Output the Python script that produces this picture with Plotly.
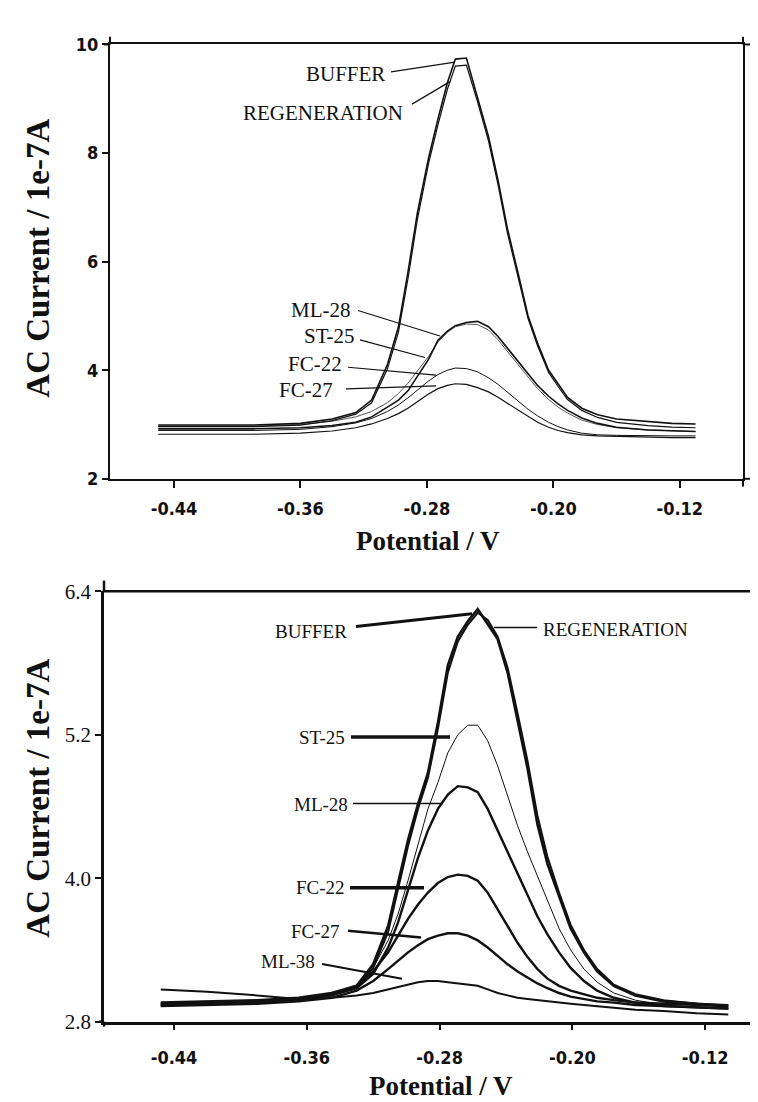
import plotly.graph_objects as go

W, H = 758, 1102

# ---------------- data: top panel ----------------
TOP_X = [-0.450, -0.420, -0.390, -0.360, -0.340, -0.325, -0.315, -0.305, -0.298, -0.292,
         -0.286, -0.279, -0.273, -0.267, -0.262, -0.255, -0.248, -0.241, -0.235, -0.229,
         -0.222, -0.216, -0.210, -0.203, -0.197, -0.191, -0.182, -0.172, -0.160, -0.140,
         -0.125, -0.110]
TOP_BUFFER = [2.99, 2.99, 2.99, 3.02, 3.10, 3.22, 3.45, 4.10, 4.80, 5.80,
              6.90, 7.90, 8.63, 9.30, 9.73, 9.75, 9.00, 8.30, 7.50, 6.60,
              5.75, 5.00, 4.50, 4.00, 3.75, 3.50, 3.30, 3.18, 3.10, 3.05,
              3.02, 3.01]
TOP_REGEN = [2.96, 2.96, 2.96, 2.99, 3.07, 3.19, 3.40, 4.02, 4.70, 5.68,
             6.78, 7.80, 8.52, 9.18, 9.60, 9.62, 8.95, 8.22, 7.42, 6.52,
             5.68, 4.95, 4.45, 3.96, 3.70, 3.46, 3.26, 3.13, 3.04, 2.98,
             2.95, 2.94]
TOP_ML28 = [2.92, 2.92, 2.92, 2.94, 2.98, 3.04, 3.14, 3.32, 3.45, 3.62,
            3.88, 4.20, 4.55, 4.72, 4.82, 4.88, 4.90, 4.80, 4.62, 4.40,
            4.15, 3.92, 3.72, 3.52, 3.38, 3.26, 3.12, 3.02, 2.95, 2.90,
            2.88, 2.87]
TOP_ST25 = [2.97, 2.97, 2.97, 3.00, 3.06, 3.14, 3.24, 3.40, 3.57, 3.76,
            3.98, 4.25, 4.52, 4.70, 4.80, 4.85, 4.84, 4.74, 4.56, 4.34,
            4.08, 3.86, 3.66, 3.46, 3.32, 3.21, 3.08, 3.00, 2.94, 2.90,
            2.88, 2.87]
TOP_FC22 = [2.89, 2.89, 2.89, 2.91, 2.96, 3.03, 3.11, 3.24, 3.36, 3.49,
            3.63, 3.80, 3.92, 4.00, 4.04, 4.03, 3.97, 3.86, 3.74, 3.60,
            3.43, 3.28, 3.16, 3.04, 2.96, 2.90, 2.84, 2.81, 2.80, 2.79,
            2.79, 2.79]
TOP_FC27 = [2.82, 2.82, 2.82, 2.84, 2.88, 2.94, 3.01, 3.11, 3.20, 3.30,
            3.42, 3.56, 3.66, 3.72, 3.75, 3.74, 3.68, 3.60, 3.50, 3.39,
            3.26, 3.14, 3.04, 2.95, 2.89, 2.85, 2.81, 2.79, 2.78, 2.77,
            2.76, 2.76]

# ---------------- data: bottom panel ----------------
BOT_X = [-0.448, -0.420, -0.390, -0.365, -0.345, -0.330, -0.320, -0.311, -0.305, -0.299,
         -0.293, -0.287, -0.281, -0.275, -0.269, -0.263, -0.257, -0.251, -0.245, -0.239,
         -0.233, -0.227, -0.221, -0.215, -0.208, -0.201, -0.193, -0.185, -0.175, -0.162,
         -0.145, -0.125, -0.106]
BOT_BUFFER = [2.96, 2.97, 2.98, 3.00, 3.04, 3.10, 3.28, 3.60, 3.95, 4.32,
              4.62, 4.88, 5.30, 5.78, 6.02, 6.15, 6.25, 6.12, 6.00, 5.72,
              5.32, 4.92, 4.45, 4.12, 3.85, 3.58, 3.38, 3.22, 3.10, 3.02,
              2.97, 2.95, 2.93]
BOT_REGEN = [2.94, 2.95, 2.96, 2.99, 3.03, 3.09, 3.25, 3.55, 3.90, 4.27,
             4.58, 4.84, 5.25, 5.72, 5.98, 6.12, 6.22, 6.16, 6.02, 5.76,
             5.38, 4.98, 4.52, 4.18, 3.88, 3.61, 3.40, 3.24, 3.11, 3.03,
             2.98, 2.95, 2.94]
BOT_ST25 = [2.95, 2.96, 2.97, 2.99, 3.03, 3.10, 3.25, 3.48, 3.70, 3.98,
            4.28, 4.58, 4.80, 5.05, 5.20, 5.28, 5.28, 5.15, 4.94, 4.68,
            4.44, 4.22, 4.02, 3.82, 3.58, 3.40, 3.24, 3.13, 3.04, 2.98,
            2.94, 2.92, 2.91]
BOT_ML28 = [2.94, 2.95, 2.96, 2.98, 3.02, 3.08, 3.20, 3.42, 3.63, 3.90,
            4.17, 4.40, 4.58, 4.70, 4.77, 4.76, 4.72, 4.58, 4.40, 4.22,
            4.03, 3.85, 3.68, 3.53, 3.38, 3.25, 3.14, 3.06, 3.00, 2.96,
            2.93, 2.92, 2.91]
BOT_FC22 = [2.95, 2.95, 2.96, 2.98, 3.02, 3.10, 3.22, 3.38, 3.52, 3.66,
            3.78, 3.88, 3.96, 4.01, 4.03, 4.02, 3.98, 3.88, 3.74, 3.60,
            3.46, 3.34, 3.24, 3.16, 3.10, 3.06, 3.03, 3.00, 2.98, 2.96,
            2.95, 2.94, 2.93]
BOT_FC27 = [2.93, 2.94, 2.95, 2.97, 3.00, 3.06, 3.14, 3.24, 3.31, 3.38,
            3.44, 3.49, 3.52, 3.54, 3.54, 3.52, 3.48, 3.42, 3.35, 3.28,
            3.22, 3.17, 3.12, 3.08, 3.04, 3.01, 2.99, 2.97, 2.96, 2.94,
            2.93, 2.92, 2.91]
BOT_ML38 = [3.07, 3.05, 3.02, 2.99, 3.00, 3.02, 3.04, 3.07, 3.09, 3.11,
            3.13, 3.14, 3.14, 3.13, 3.12, 3.11, 3.10, 3.07, 3.04, 3.02,
            3.00, 2.99, 2.98, 2.97, 2.96, 2.95, 2.94, 2.93, 2.92, 2.90,
            2.89, 2.87, 2.86]

TOP_XTICKS = [-0.44, -0.36, -0.28, -0.20, -0.12]
TOP_XTICK_TEXT = ["-0.44", "-0.36", "-0.28", "-0.20", "-0.12"]
TOP_YTICKS = [2, 4, 6, 8, 10]
BOT_XTICKS = [-0.44, -0.36, -0.28, -0.20, -0.12]
BOT_XTICK_TEXT = ["-0.44", "-0.36", "-0.28", "-0.20", "-0.12"]
BOT_YTICKS = [2.8, 4.0, 5.2, 6.4]
BOT_YTICK_TEXT = ["2.8", "4.0", "5.2", "6.4"]

X_TITLE = "Potential / V"
Y_TITLE = "AC Current / 1e-7A"

# ---------------- layout helpers (pixel -> paper) ----------------
def px(x):
    return x / W

def py(y):
    return 1 - y / H

SERIF = "Liberation Serif, Times New Roman, serif"
NARROW = "Liberation Sans Narrow, Arial Narrow, DejaVu Sans Condensed, sans-serif"
INK = "#111111"

# plot areas in pixels
T_L, T_R, T_T, T_B = 102, 735, 25, 469
B_L, B_R, B_T, B_B = 96, 758, 584, 1024

fig = go.Figure()

def add(x, y, xa, ya, width, color=INK):
    fig.add_trace(go.Scatter(x=x, y=y, mode="lines", xaxis=xa, yaxis=ya,
                             line=dict(color=color, width=width),
                             showlegend=False, hoverinfo="skip"))

# top panel
add(TOP_X, TOP_FC27, "x", "y", 1.2)
add(TOP_X, TOP_FC22, "x", "y", 1.0)
add(TOP_X, TOP_ST25, "x", "y", 1.0, "#555555")
add(TOP_X, TOP_ML28, "x", "y", 1.6)
add(TOP_X, TOP_REGEN, "x", "y", 1.2)
add(TOP_X, TOP_BUFFER, "x", "y", 1.6)

# bottom panel
add(BOT_X, BOT_ML38, "x2", "y2", 2.0)
add(BOT_X, BOT_FC27, "x2", "y2", 2.4)
add(BOT_X, BOT_FC22, "x2", "y2", 2.4)
add(BOT_X, BOT_ML28, "x2", "y2", 2.4)
add(BOT_X, BOT_ST25, "x2", "y2", 1.0)
add(BOT_X, BOT_REGEN, "x2", "y2", 2.0)
add(BOT_X, BOT_BUFFER, "x2", "y2", 2.6)

tickfont_narrow = dict(family=NARROW, size=18, color=INK, weight="bold")

fig.update_layout(
    width=W, height=H, paper_bgcolor="white", plot_bgcolor="white",
    margin=dict(l=0, r=0, t=0, b=0), showlegend=False,
    xaxis=dict(domain=[px(T_L), px(T_R)], range=[-0.4805, -0.0800], anchor="y",
               tickvals=TOP_XTICKS, ticktext=TOP_XTICK_TEXT, ticks="outside",
               ticklen=7, tickwidth=1.5, tickcolor=INK, showline=True, linewidth=2,
               linecolor=INK, mirror=True, showgrid=False, zeroline=False,
               tickfont=tickfont_narrow, ticklabelstandoff=6),
    yaxis=dict(domain=[py(T_B), py(T_T)], range=[2, 10], anchor="x",
               tickvals=TOP_YTICKS, ticks="outside", ticklen=6, tickwidth=1.5,
               tickcolor=INK, showline=True, linewidth=2, linecolor=INK, mirror=True,
               showgrid=False, zeroline=False, tickfont=tickfont_narrow),
    xaxis2=dict(domain=[px(B_L), px(B_R)], range=[-0.4822, -0.0833], anchor="y2",
                tickvals=BOT_XTICKS, ticktext=BOT_XTICK_TEXT, ticks="outside",
                ticklen=6, tickwidth=2, tickcolor=INK, showline=True, linewidth=2.5,
                linecolor=INK, showgrid=False, zeroline=False,
                tickfont=tickfont_narrow, ticklabelstandoff=12),
    yaxis2=dict(domain=[py(B_B), py(B_T)], range=[2.8, 6.4], anchor="x2",
                tickvals=BOT_YTICKS, ticktext=BOT_YTICK_TEXT, ticks="outside",
                ticklen=6, tickwidth=2, tickcolor=INK, showline=True, linewidth=2.5,
                linecolor=INK, showgrid=False, zeroline=False,
                tickfont=dict(family=SERIF, size=21, color=INK)),
)

shapes = []

def seg(x0, y0, x1, y1, w=1.2):
    shapes.append(dict(type="line", xref="paper", yref="paper",
                       x0=px(x0), y0=py(y0), x1=px(x1), y1=py(y1),
                       line=dict(color=INK, width=w)))

# axis-line extensions (corners crossing)
seg(T_L, 17, T_L, T_T, 2)
seg(T_R, 17, T_R, T_T, 2)
seg(T_R, T_B, T_R, 477, 2)
seg(T_R, T_B, 742, T_B, 2)
seg(T_R, T_T, 742, T_T, 2)
seg(96, T_T, T_L, T_T, 2)
seg(B_L, 573, B_L, B_T, 2.5)
seg(B_L, B_B, B_L, 1029, 2.5)
seg(91, B_B, B_L, B_B, 2.5)
seg(B_L, B_T, B_R, B_T, 2.5)

annotations = []

def label(text, xr, yc, size, x0, y0, x1, y1, w=1.2):
    annotations.append(dict(text=text, xref="paper", yref="paper", x=px(xr), y=py(yc),
                            xanchor="right", yanchor="middle", showarrow=False,
                            font=dict(family=SERIF, size=size, color=INK)))
    seg(x0, y0, x1, y1, w)

def label_left(text, xl, yc, size, x0, y0, x1, y1, w=1.2):
    annotations.append(dict(text=text, xref="paper", yref="paper", x=px(xl), y=py(yc),
                            xanchor="left", yanchor="middle", showarrow=False,
                            font=dict(family=SERIF, size=size, color=INK)))
    seg(x0, y0, x1, y1, w)

# top panel labels
label("BUFFER", 379, 55, 21, 383, 53, 447, 43)
label("REGENERATION", 397, 95, 21, 404, 86, 442, 63)
label("ML-28", 345, 296, 21, 350, 297, 432, 323)
label("ST-25", 349, 323, 21, 352, 327, 417, 345)
label("FC-22", 336, 352, 21, 340, 355, 428, 363)
label("FC-27", 327, 378, 21, 338, 377, 428, 374)

# bottom panel labels
label("BUFFER", 341, 625, 19, 348, 620, 464, 607, 3)
label_left("REGENERATION", 533, 623, 19, 486, 621, 529, 621, 1.5)
label("ST-25", 339, 733, 19, 343, 733, 442, 733, 3.5)
label("ML-28", 342, 802, 19, 345, 801, 435, 801, 1.5)
label("FC-22", 339, 887, 19, 342, 887, 416, 887, 3.5)
label("FC-27", 334, 932, 19, 340, 931, 413, 938, 2.5)
label("ML-38", 309, 962, 19, 314, 965, 394, 980, 2)

# axis titles
def title(text, xc, yc, angle=0, size=27):
    annotations.append(dict(text="<b>" + text + "</b>", xref="paper", yref="paper",
                            x=px(xc), y=py(yc), xanchor="center", yanchor="middle",
                            textangle=angle, showarrow=False,
                            font=dict(family=SERIF, size=size, color=INK)))

title(X_TITLE, 420, 533)
title(X_TITLE, 433, 1090)
title(Y_TITLE, 30, 244, -90, 33)
title(Y_TITLE, 30, 796, -90, 33)

fig.update_layout(shapes=shapes, annotations=annotations)
fig.write_html("out.html")
